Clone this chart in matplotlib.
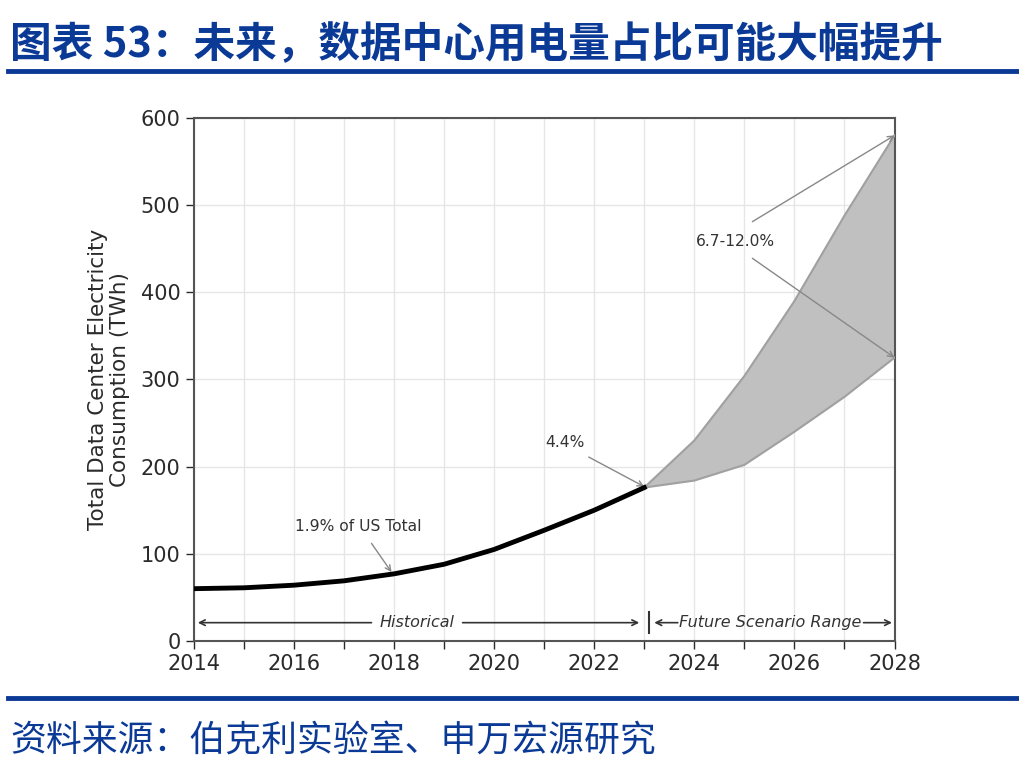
import numpy as np
import matplotlib.pyplot as plt
from matplotlib.lines import Line2D

plt.rcParams['font.family'] = ['DejaVu Sans']

# historical consumption (TWh)
hist_years = [2014, 2015, 2016, 2017, 2018, 2019, 2020, 2021, 2022, 2023]
hist_vals = [60, 61, 64, 69, 77, 88, 105, 127, 150, 176]

# future scenario range (TWh)
fut_years = [2023, 2024, 2025, 2026, 2027, 2028]
fut_low = [176, 184, 202, 240, 280, 325]
fut_high = [176, 230, 304, 390, 488, 580]

title = '图表 53：未来，数据中心用电量占比可能大幅提升'
source = '资料来源：伯克利实验室、申万宏源研究'
blue = '#0b3a96'
cjk = ['Noto Sans CJK SC', 'DejaVu Sans']

fig = plt.figure(figsize=(10.2, 7.76), dpi=100)
ax = fig.add_axes([0.190, 0.174, 0.687, 0.674])

ax.fill_between(fut_years, fut_low, fut_high, facecolor='#c0c0c0', edgecolor='none', zorder=2)
ax.plot(fut_years, fut_low, color='#a0a0a0', lw=1.5, zorder=3)
ax.plot(fut_years, fut_high, color='#a0a0a0', lw=1.5, zorder=3)
ax.plot(hist_years, hist_vals, color='black', lw=3.5, zorder=4)

ax.set_xlim(2014, 2028)
ax.set_ylim(0, 600)
ax.set_xticks(range(2014, 2029, 2))
ax.set_xticks(range(2015, 2028, 2), minor=True)
ax.set_yticks(range(0, 601, 100))
ax.grid(True, which='both', color='#e6e6e6', lw=1)
ax.set_axisbelow(True)
ax.tick_params(axis='both', labelsize=15, colors='#2a2a2a', length=6, width=1)
ax.tick_params(axis='x', which='minor', length=6, width=1, colors='#2a2a2a')
for s in ax.spines.values():
    s.set_color('#555555')
    s.set_linewidth(1.5)
ax.set_ylabel('Total Data Center Electricity\nConsumption (TWh)', fontsize=15.5, color='#2a2a2a',
              linespacing=1.1, labelpad=8)

gray = '#888888'
arrow = dict(arrowstyle='->', color=gray, lw=1, shrinkA=0, shrinkB=0)
ax.text(2016.02, 131, '1.9% of US Total', fontsize=11.2, color='#333333', ha='left', va='center')
ax.annotate('', xy=(2017.95, 79), xytext=(2017.55, 112), arrowprops=arrow)
ax.text(2021.03, 228, '4.4%', fontsize=11.2, color='#333333', ha='left', va='center')
ax.annotate('', xy=(2023, 177), xytext=(2021.89, 211), arrowprops=arrow)
ax.text(2024.03, 458, '6.7-12.0%', fontsize=11.2, color='#333333', ha='left', va='center')
ax.annotate('', xy=(2028, 580), xytext=(2025.16, 481), arrowprops=arrow)
ax.annotate('', xy=(2028, 325), xytext=(2025.16, 439), arrowprops=arrow)

# period arrows
ay = 21
parrow = dict(arrowstyle='->', color='#333333', lw=1.2, shrinkA=0, shrinkB=0)
ax.annotate('', xy=(2014.08, ay), xytext=(2017.55, ay), arrowprops=parrow)
ax.annotate('', xy=(2022.9, ay), xytext=(2019.37, ay), arrowprops=parrow)
ax.text(2018.47, ay, 'Historical', style='italic', fontsize=11.5, color='#333333', ha='center', va='center')
ax.plot([2023.1, 2023.1], [9, 33], color='#333333', lw=1.5)
ax.annotate('', xy=(2023.2, ay), xytext=(2023.67, ay), arrowprops=parrow)
ax.annotate('', xy=(2027.95, ay), xytext=(2027.38, ay), arrowprops=parrow)
ax.text(2025.52, ay, 'Future Scenario Range', style='italic', fontsize=11.5, color='#333333',
        ha='center', va='center')

# header and footer
fig.text(0.010, 0.942, title, family=cjk, fontsize=30, fontweight='bold', color=blue,
         ha='left', va='center')
fig.add_artist(Line2D([0.008, 1.0], [0.909, 0.909], color=blue, lw=3.5))
fig.add_artist(Line2D([0.008, 1.0], [0.101, 0.101], color=blue, lw=3.5))
fig.text(0.010, 0.045, source, family=cjk, fontsize=25.8, color=blue, ha='left', va='center')

fig.savefig('out.png', dpi=100)
